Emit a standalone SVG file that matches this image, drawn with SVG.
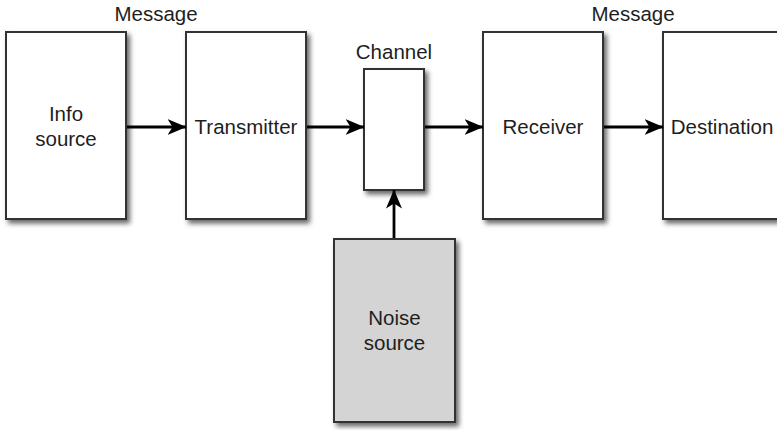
<svg xmlns="http://www.w3.org/2000/svg" width="777" height="430" viewBox="0 0 777 430">
  <style>
    .box { fill: #ffffff; stroke: #333333; stroke-width: 2; filter: url(#shadow); }
    .noise { fill: #d4d4d4; }
    .lbl { font-family: "Liberation Sans", Arial, Helvetica, sans-serif; font-size: 20.5px; fill: #1e1e1e; text-anchor: middle; }
    .conn { stroke: #000000; stroke-width: 2.8; fill: none; marker-end: url(#arrow); }
  </style>
  <defs>
    <filter id="shadow" x="-20%" y="-20%" width="150%" height="150%">
      <feDropShadow dx="3" dy="3.5" stdDeviation="2.5" flood-color="#000000" flood-opacity="0.6"/>
    </filter>
    <marker id="arrow" viewBox="0 0 19 16" refX="18.5" refY="8" markerWidth="19" markerHeight="16" markerUnits="userSpaceOnUse" orient="auto">
      <path d="M0,0 L19,8 L0,16 L5,8 Z" fill="#000000"/>
    </marker>
  </defs>
  <rect width="777" height="430" fill="#ffffff"/>

  <text class="lbl" x="156" y="21">Message</text>
  <text class="lbl" x="633" y="21">Message</text>

  <g id="info-source">
    <rect class="box" x="6" y="32" width="120" height="187"/>
    <text class="lbl" x="66" y="121">Info</text>
    <text class="lbl" x="66" y="146">source</text>
  </g>
  <g id="transmitter">
    <rect class="box" x="186" y="32" width="120" height="187"/>
    <text class="lbl" x="246" y="134">Transmitter</text>
  </g>
  <g id="channel">
    <text class="lbl" x="394" y="59">Channel</text>
    <rect class="box" x="364" y="69" width="60" height="121"/>
  </g>
  <g id="receiver">
    <rect class="box" x="483" y="32" width="120" height="187"/>
    <text class="lbl" x="543" y="134">Receiver</text>
  </g>
  <g id="destination">
    <rect class="box" x="663" y="32" width="122" height="187"/>
    <text class="lbl" x="722" y="134">Destination</text>
  </g>
  <g id="noise-source">
    <rect class="box noise" x="334" y="239" width="121" height="183"/>
    <text class="lbl" x="394.5" y="325">Noise</text>
    <text class="lbl" x="394.5" y="350">source</text>
  </g>

  <g id="connectors">
    <line class="conn" x1="127" y1="127" x2="186" y2="127"/>
    <line class="conn" x1="307" y1="127" x2="364" y2="127"/>
    <line class="conn" x1="425" y1="127" x2="483" y2="127"/>
    <line class="conn" x1="604" y1="127" x2="663" y2="127"/>
    <line class="conn" x1="394" y1="238" x2="394" y2="190"/>
  </g>
</svg>
